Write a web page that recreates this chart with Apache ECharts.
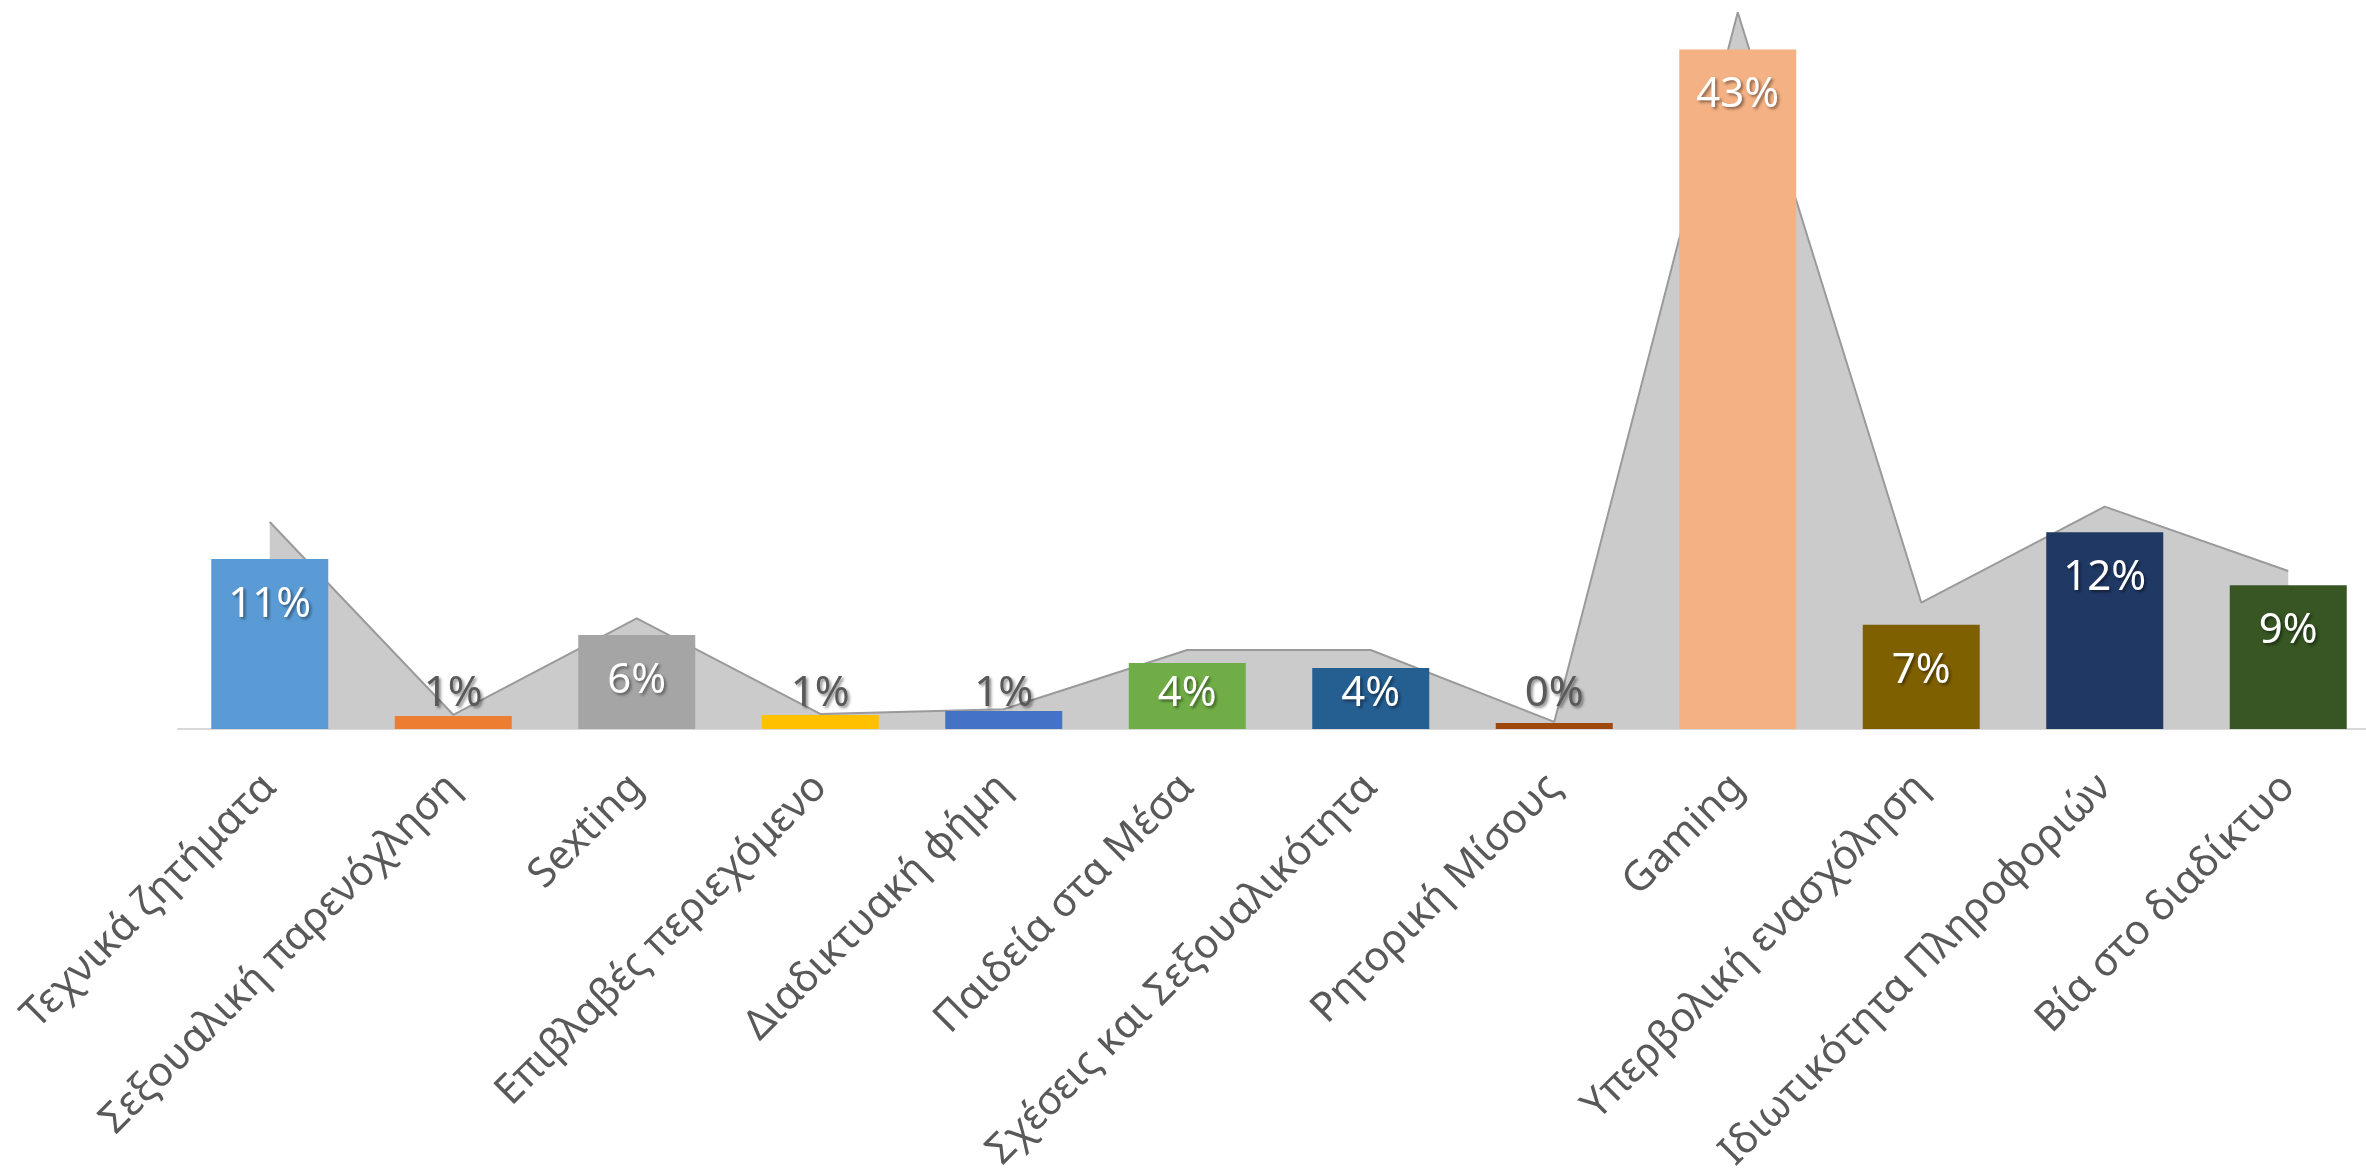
<!DOCTYPE html>
<html>
<head>
<meta charset="utf-8">
<script src="https://cdn.jsdelivr.net/npm/echarts@6/dist/echarts.min.js"></script>
<style>
  html, body { margin: 0; padding: 0; background: #fff; }
  #chart { width: 2366px; height: 1171px; }
</style>
</head>
<body>
<div id="chart"></div>
<script>
// κατηγορίες
const categories = [
  'Τεχνικά ζητήματα',
  'Σεξουαλική παρενόχληση',
  'Sexting',
  'Επιβλαβές περιεχόμενο',
  'Διαδικτυακή φήμη',
  'Παιδεία στα Μέσα',
  'Σχέσεις και Σεξουαλικότητα',
  'Ρητορική Μίσους',
  'Gaming',
  'Υπερβολική ενασχόληση',
  'Ιδιωτικότητα Πληροφοριών',
  'Βία στο διαδίκτυο'
];

// τιμές στηλών (%)
const barValues = [10.75, 0.82, 5.95, 0.89, 1.14, 4.17, 3.86, 0.38, 43.0, 6.6, 12.45, 9.1];

// γκρι περιοχή στο φόντο (%)
const areaValues = [13.1, 0.9, 7.0, 0.95, 1.25, 5.0, 5.0, 0.45, 45.35, 8.0, 14.07, 10.0];

const barColors = [
  '#5B9BD5', '#ED7D31', '#A5A5A5', '#FFC000', '#4472C4', '#70AD47',
  '#255E91', '#9E480E', '#F4B183', '#7F6000', '#203864', '#375623'
];

const chart = echarts.init(document.getElementById('chart'));

const barData = barValues.map((v, i) => ({
  value: v,
  itemStyle: { color: barColors[i] },
  label: v >= 5
    ? { position: 'insideTop', distance: 25, color: '#FFFFFF' }
    : { position: 'insideBottom', distance: 14, color: v < 2 ? '#595959' : '#FFFFFF' }
}));

const option = {
  backgroundColor: '#FFFFFF',
  animation: false,
  grid: { left: 178, right: -14, top: 2, bottom: 442, outerBoundsMode: 'none' },
  xAxis: {
    type: 'category',
    data: categories,
    boundaryGap: true,
    axisLine: { show: true, lineStyle: { color: '#D9D9D9', width: 2 } },
    axisTick: { show: false },
    axisLabel: {
      interval: 0,
      rotate: 45,
      margin: 52,
      color: '#595959',
      fontSize: 41,
      fontFamily: 'Noto Sans'
    }
  },
  yAxis: {
    type: 'value',
    min: 0,
    max: 46,
    show: false,
    splitLine: { show: false }
  },
  series: [
    {
      type: 'line',
      data: areaValues,
      symbol: 'none',
      z: 1,
      lineStyle: { color: '#9A9A9A', width: 2 },
      areaStyle: { color: '#CBCBCB', opacity: 1 }
    },
    {
      type: 'bar',
      data: barData,
      barWidth: 117,
      z: 2,
      label: {
        show: true,
        fontSize: 42,
        fontFamily: 'Noto Sans',
        formatter: p => Math.round(p.value) + '%',
        textShadowColor: 'rgba(0,0,0,0.45)',
        textShadowBlur: 3,
        textShadowOffsetX: 2,
        textShadowOffsetY: 2
      }
    }
  ]
};

chart.setOption(option);
window.addEventListener('resize', () => chart.resize());
</script>
</body>
</html>
